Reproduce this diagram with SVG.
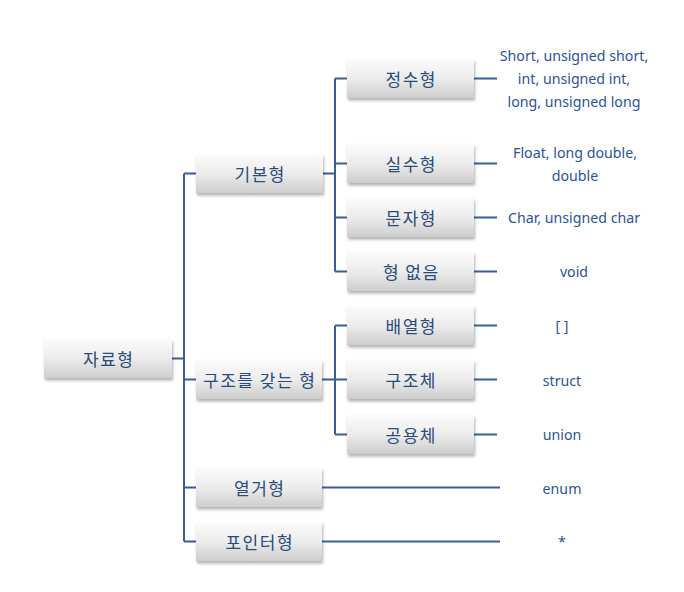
<svg xmlns="http://www.w3.org/2000/svg" width="684" height="592" viewBox="0 0 684 592">
<style>
.box{fill:url(#g);filter:url(#sh)}
.nt{font-family:"Noto Sans CJK KR","Noto Sans",sans-serif;font-size:17px;letter-spacing:1.5px;fill:#2a4a78;text-anchor:middle;dominant-baseline:central}
.lt{font-family:"Noto Sans","Liberation Sans",sans-serif;font-size:14.2px;fill:#2f5290;text-anchor:middle;dominant-baseline:central}
.c{stroke:#3a5f8f;stroke-width:2;fill:none}
</style>
<defs>
<linearGradient id="g" x1="0" y1="0" x2="0" y2="1">
<stop offset="0" stop-color="#fbfbfb"/>
<stop offset="0.5" stop-color="#ececec"/>
<stop offset="1" stop-color="#cdcdcd"/>
</linearGradient>
<filter id="sh" x="-10%" y="-20%" width="125%" height="160%">
<feDropShadow dx="1" dy="2.5" stdDeviation="1.8" flood-color="#000" flood-opacity="0.3"/>
</filter>
</defs>
<rect width="684" height="592" fill="#fff"/>
<g id="connectors">
<path class="c" d="M172 358.5H184M184 173.5V541.5M184 173.5H196M184 379.5H196M184 487.5H196M184 541.5H196"/>
<path class="c" d="M323 173.5H335M335 78.5V271.5M335 78.5H347M335 163.5H347M335 217.5H347M335 271.5H347"/>
<path class="c" d="M322 379.5H335M335 325.5V434.5M335 325.5H347M335 379.5H347M335 434.5H347"/>
<path class="c" d="M474 78.5H497M474 163.5H497M474 217.5H497M474 271.5H497M474 325.5H497M474 379.5H497M474 434.5H497M322 487.5H500M322 541.5H500"/>
</g>
<g id="n-root"><rect class="box" x="44" y="339" width="128" height="39"/><text class="nt" x="108.75" y="358.5">자료형</text></g>
<g id="n-basic"><rect class="box" x="196" y="154" width="127" height="39"/><text class="nt" x="260.25" y="173.5">기본형</text></g>
<g id="n-struct"><rect class="box" x="196" y="360" width="126" height="39"/><text class="nt" x="259.75" y="379.5">구조를 갖는 형</text></g>
<g id="n-enum"><rect class="box" x="196" y="468" width="126" height="39"/><text class="nt" x="259.75" y="487.5">열거형</text></g>
<g id="n-ptr"><rect class="box" x="196" y="522" width="126" height="39"/><text class="nt" x="259.75" y="541.5">포인터형</text></g>
<g id="n-int"><rect class="box" x="347" y="59" width="127" height="39"/><text class="nt" x="411.25" y="78.5">정수형</text></g>
<g id="n-real"><rect class="box" x="347" y="144" width="127" height="39"/><text class="nt" x="411.25" y="163.5">실수형</text></g>
<g id="n-char"><rect class="box" x="347" y="198" width="127" height="39"/><text class="nt" x="411.25" y="217.5">문자형</text></g>
<g id="n-void"><rect class="box" x="347" y="252" width="127" height="39"/><text class="nt" x="411.25" y="271.5">형 없음</text></g>
<g id="n-arr"><rect class="box" x="347" y="306" width="127" height="39"/><text class="nt" x="411.25" y="325.5">배열형</text></g>
<g id="n-st"><rect class="box" x="347" y="360" width="127" height="39"/><text class="nt" x="411.25" y="379.5">구조체</text></g>
<g id="n-un"><rect class="box" x="347" y="415" width="127" height="39"/><text class="nt" x="411.25" y="434.5">공용체</text></g>
<g id="labels">
<text class="lt" x="574" y="55">Short, unsigned short,</text>
<text class="lt" x="574" y="78">int, unsigned int,</text>
<text class="lt" x="574" y="101">long, unsigned long</text>
<text class="lt" x="575" y="152">Float, long double,</text>
<text class="lt" x="575" y="175">double</text>
<text class="lt" x="574" y="217">Char, unsigned char</text>
<text class="lt" x="574" y="271">void</text>
<text class="lt" x="562" y="325">[ ]</text>
<text class="lt" x="562" y="380">struct</text>
<text class="lt" x="562" y="434">union</text>
<text class="lt" x="562" y="488">enum</text>
<text class="lt" x="562" y="541">*</text>
</g>
</svg>
